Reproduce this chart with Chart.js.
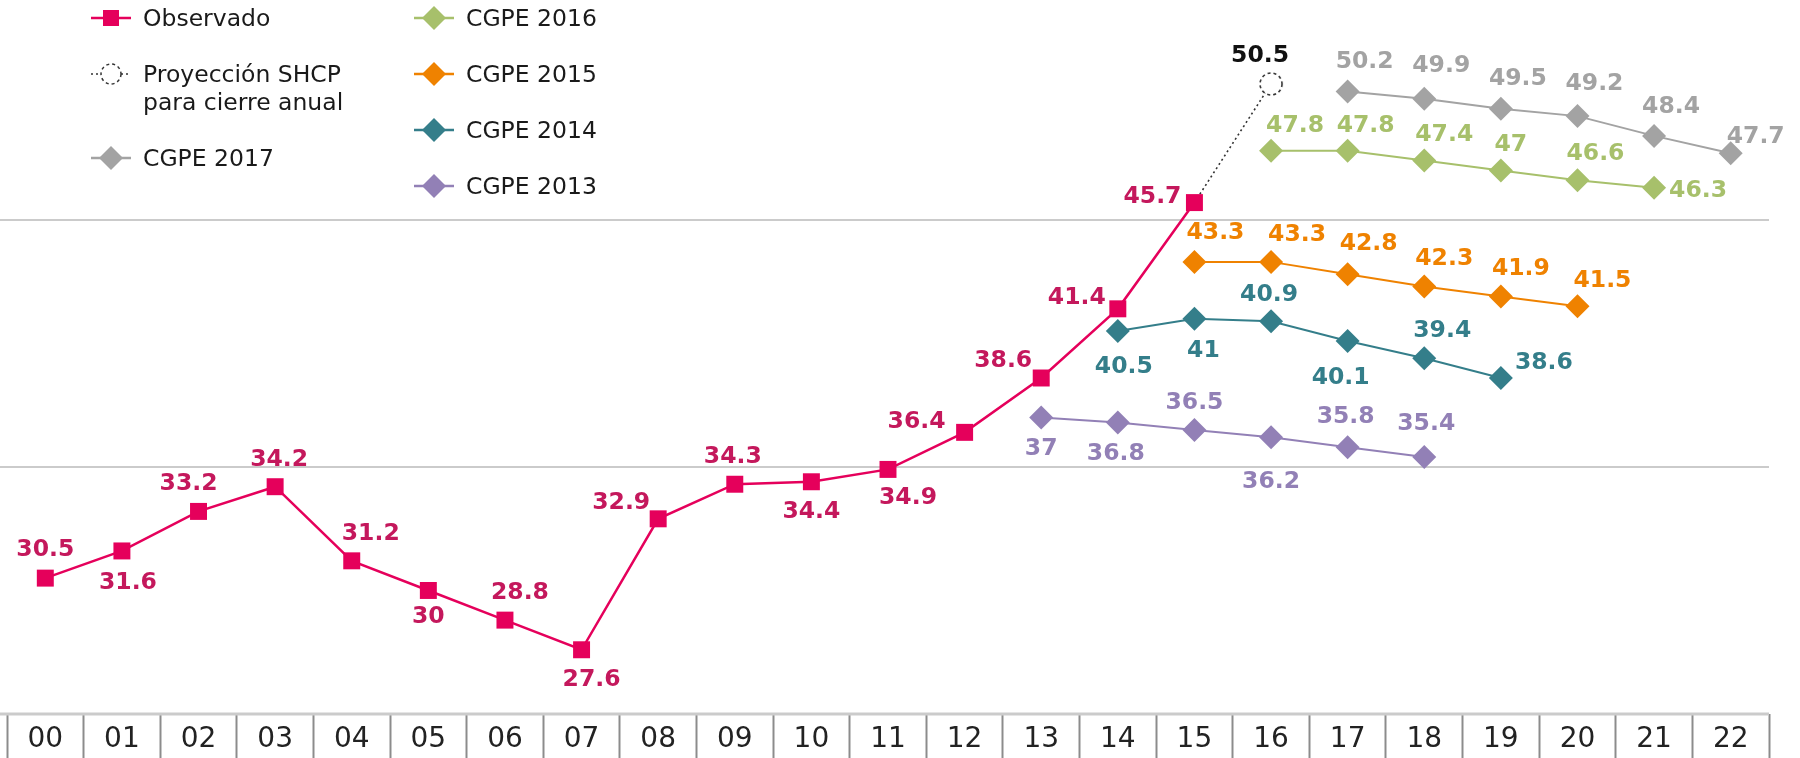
<!DOCTYPE html>
<html lang="es">
  <head>
    <meta charset="UTF-8" />
    <title>Observado, proyección SHCP y CGPE 2013-2017</title>
    <style>
      body {
        margin: 0;
        background: #ffffff;
      }

      #wrap {
        position: relative;
        width: 1800px;
        height: 758px;
      }

      .lg-item {
        position: absolute;
        font-family: "DejaVu Sans", sans-serif;
        font-size: 23.5px;
        line-height: 28px;
        color: #1a1a1a;
        white-space: nowrap;
      }

      .lg-item svg {
        position: absolute;
        left: 0;
        top: 0;
      }

      .lg-item span {
        position: absolute;
        top: -1px;
      }
    </style>
  </head>
  <body>
    <div id="wrap">
      <canvas id="deuda"></canvas>
      <div id="legend"></div>
    </div>

    <script src="https://cdn.jsdelivr.net/npm/chart.js@4.4.0/dist/chart.umd.min.js"></script>
    <script>
      // categorías (años 2000-2022)
      const years = ["00", "01", "02", "03", "04", "05", "06", "07", "08", "09", "10", "11",
        "12", "13", "14", "15", "16", "17", "18", "19", "20", "21", "22"];

      // series
      const observado = [30.5, 31.6, 33.2, 34.2, 31.2, 30, 28.8, 27.6, 32.9, 34.3, 34.4, 34.9,
        36.4, 38.6, 41.4, 45.7, null, null, null, null, null, null, null];
      const proyeccion = [null, null, null, null, null, null, null, null, null, null, null, null,
        null, null, null, 45.7, 50.5, null, null, null, null, null, null];
      const cgpe2017 = [null, null, null, null, null, null, null, null, null, null, null, null,
        null, null, null, null, null, 50.2, 49.9, 49.5, 49.2, 48.4, 47.7];
      const cgpe2016 = [null, null, null, null, null, null, null, null, null, null, null, null,
        null, null, null, null, 47.8, 47.8, 47.4, 47, 46.6, 46.3, null];
      const cgpe2015 = [null, null, null, null, null, null, null, null, null, null, null, null,
        null, null, null, 43.3, 43.3, 42.8, 42.3, 41.9, 41.5, null, null];
      const cgpe2014 = [null, null, null, null, null, null, null, null, null, null, null, null,
        null, null, 40.5, 41, 40.9, 40.1, 39.4, 38.6, null, null, null];
      const cgpe2013 = [null, null, null, null, null, null, null, null, null, null, null, null,
        null, 37, 36.8, 36.5, 36.2, 35.8, 35.4, null, null, null, null];

      // eje y: líneas guía
      const gridValues = [25, 35, 45];

      // desplazamiento de las etiquetas (px) respecto a cada punto
      const obsLabelPos = [[0, -28], [6, 32], [-10, -28], [4, -27], [19, -27], [0, 26], [15, -27],
        [10, 30], [-37, -16], [-2, -27], [0, 30], [20, 28], [-48, -10], [-38, -17], [-41, -11], [-42, -6]];
      const proyLabelPos = { 16: [-11, -28] };
      const c17LabelPos = { 17: [17, -30], 18: [17, -33], 19: [17, -30], 20: [17, -32], 21: [17, -29], 22: [25, -16] };
      const c16LabelPos = { 16: [24, -25], 17: [18, -25], 18: [20, -26], 19: [10, -26], 20: [18, -26], 21: [44, 3] };
      const c15LabelPos = { 15: [21, -29], 16: [26, -27], 17: [21, -30], 18: [20, -28], 19: [20, -28], 20: [25, -25] };
      const c14LabelPos = { 14: [6, 36], 15: [9, 32], 16: [-2, -26], 17: [-7, 37], 18: [18, -27], 19: [43, -15] };
      const c13LabelPos = { 13: [0, 31], 14: [-2, 31], 15: [0, -27], 16: [0, 45], 17: [-2, -30], 18: [2, -33] };

      const PINK = "#e5005b";
      const GRAY = "#a3a3a3";
      const GREEN = "#a7c06b";
      const ORANGE = "#ef8200";
      const TEAL = "#347e8a";
      const PURPLE = "#9280b6";
      const FONT = "DejaVu Sans";

      // círculo punteado para la proyección
      function dashedCircle(r) {
        const c = document.createElement("canvas");
        c.width = c.height = 2 * r + 4;
        const g = c.getContext("2d");
        g.setLineDash([3, 3]);
        g.lineWidth = 1.6;
        g.strokeStyle = "#333";
        g.fillStyle = "#fff";
        g.beginPath();
        g.arc(r + 2, r + 2, r, 0, Math.PI * 2);
        g.fill();
        g.stroke();
        return c;
      }

      function diamondSet(label, data, color, labelPos) {
        return {
          label: label,
          data: data,
          borderColor: color,
          backgroundColor: color,
          borderWidth: 2,
          pointStyle: "rectRot",
          pointRadius: 12,
          pointBorderWidth: 0,
          labelColor: color,
          labelPos: labelPos,
        };
      }

      // líneas horizontales desde el borde izquierdo
      const gridPlugin = {
        id: "gridPlugin",
        beforeDatasetsDraw(chart) {
          const { ctx, chartArea, scales } = chart;
          ctx.save();
          ctx.strokeStyle = "#cbcbcb";
          scales.y.ticks.forEach((t) => {
            const py = scales.y.getPixelForValue(t.value);
            ctx.lineWidth = t.value === gridValues[0] ? 3 : 2;
            ctx.beginPath();
            ctx.moveTo(0, py);
            ctx.lineTo(chartArea.right, py);
            ctx.stroke();
          });
          ctx.restore();
        },
      };

      // etiquetas de valor
      const labelPlugin = {
        id: "labelPlugin",
        afterDatasetsDraw(chart) {
          const ctx = chart.ctx;
          ctx.save();
          ctx.font = "bold 23.5px '" + FONT + "'";
          ctx.textAlign = "center";
          ctx.textBaseline = "middle";
          chart.data.datasets.forEach((ds, di) => {
            const meta = chart.getDatasetMeta(di);
            ds.data.forEach((v, i) => {
              const off = ds.labelPos ? ds.labelPos[i] : null;
              if (v == null || !off) return;
              const el = meta.data[i];
              ctx.fillStyle = ds.labelColor;
              ctx.fillText(String(v), el.x + off[0], el.y + off[1]);
            });
          });
          ctx.restore();
        },
      };

      const ctx = document.getElementById("deuda").getContext("2d");
      new Chart(ctx, {
        type: "line",
        data: {
          labels: years,
          datasets: [
            {
              label: "Observado",
              data: observado,
              borderColor: PINK,
              backgroundColor: PINK,
              borderWidth: 2.5,
              pointStyle: "rect",
              pointRadius: 12,
              pointBorderWidth: 0,
              labelColor: "#c4185c",
              labelPos: obsLabelPos,
            },
            {
              label: "Proyección SHCP para cierre anual",
              data: proyeccion,
              borderColor: "#333",
              borderWidth: 1.6,
              borderDash: [2, 3],
              pointStyle: dashedCircle(11),
              pointRadius: (c) => (c.dataIndex === 16 ? 11 : 0),
              labelColor: "#111",
              labelPos: proyLabelPos,
            },
            diamondSet("CGPE 2017", cgpe2017, GRAY, c17LabelPos),
            diamondSet("CGPE 2016", cgpe2016, GREEN, c16LabelPos),
            diamondSet("CGPE 2015", cgpe2015, ORANGE, c15LabelPos),
            diamondSet("CGPE 2014", cgpe2014, TEAL, c14LabelPos),
            diamondSet("CGPE 2013", cgpe2013, PURPLE, c13LabelPos),
          ],
        },
        options: {
          responsive: true,
          maintainAspectRatio: false,
          animation: false,
          layout: { autoPadding: false, padding: { left: 7, right: 31, top: 0, bottom: 0 } },
          plugins: {
            legend: { display: false },
            tooltip: { enabled: false },
          },
          scales: {
            x: {
              offset: true,
              grid: {
                offset: true,
                drawOnChartArea: false,
                drawTicks: true,
                tickLength: 44,
                tickColor: "#8c8c8c",
                tickWidth: 2,
              },
              border: { display: false },
              ticks: {
                autoSkip: false,
                maxRotation: 0,
                padding: -35,
                color: "#222",
                font: { family: FONT, size: 28 },
              },
              afterFit: (s) => {
                s.height = 44;
              },
            },
            y: {
              min: 25,
              max: 53.9,
              grid: { display: false },
              border: { display: false },
              ticks: { display: false },
              afterBuildTicks: (s) => {
                s.ticks = gridValues.map((v) => ({ value: v }));
              },
              afterFit: (s) => {
                s.width = 0;
              },
            },
          },
        },
        plugins: [gridPlugin, labelPlugin],
      });

      // leyenda en dos columnas
      const legendItems = [
        { text: "Observado", x: 91, y: 18, icon: "square", color: PINK },
        { text: "Proyección SHCP<br>para cierre anual", x: 91, y: 74, icon: "circle", color: "#333" },
        { text: "CGPE 2017", x: 91, y: 158, icon: "diamond", color: GRAY },
        { text: "CGPE 2016", x: 414, y: 18, icon: "diamond", color: GREEN },
        { text: "CGPE 2015", x: 414, y: 74, icon: "diamond", color: ORANGE },
        { text: "CGPE 2014", x: 414, y: 130, icon: "diamond", color: TEAL },
        { text: "CGPE 2013", x: 414, y: 186, icon: "diamond", color: PURPLE },
      ];

      function iconSvg(type, color) {
        let mark = "";
        let line = `<line x1="0" y1="13" x2="40" y2="13" stroke="${color}" stroke-width="2.5"/>`;
        if (type === "square") {
          mark = `<rect x="12" y="5" width="16" height="16" fill="${color}"/>`;
        } else if (type === "diamond") {
          mark = `<polygon points="20,1 32,13 20,25 8,13" fill="${color}"/>`;
        } else {
          line = `<line x1="0" y1="13" x2="40" y2="13" stroke="${color}" stroke-width="1.5" stroke-dasharray="2 3"/>`;
          mark = `<circle cx="20" cy="13" r="10" fill="#fff" stroke="${color}" stroke-width="1.5" stroke-dasharray="3 3"/>`;
        }
        return `<svg width="40" height="26" viewBox="0 0 40 26">${line}${mark}</svg>`;
      }

      const legendEl = document.getElementById("legend");
      legendItems.forEach((it) => {
        const d = document.createElement("div");
        d.className = "lg-item";
        d.style.left = it.x + "px";
        d.style.top = it.y - 13 + "px";
        d.innerHTML = iconSvg(it.icon, it.color) + `<span style="left:52px">${it.text}</span>`;
        legendEl.appendChild(d);
      });
    </script>
  </body>
</html>
